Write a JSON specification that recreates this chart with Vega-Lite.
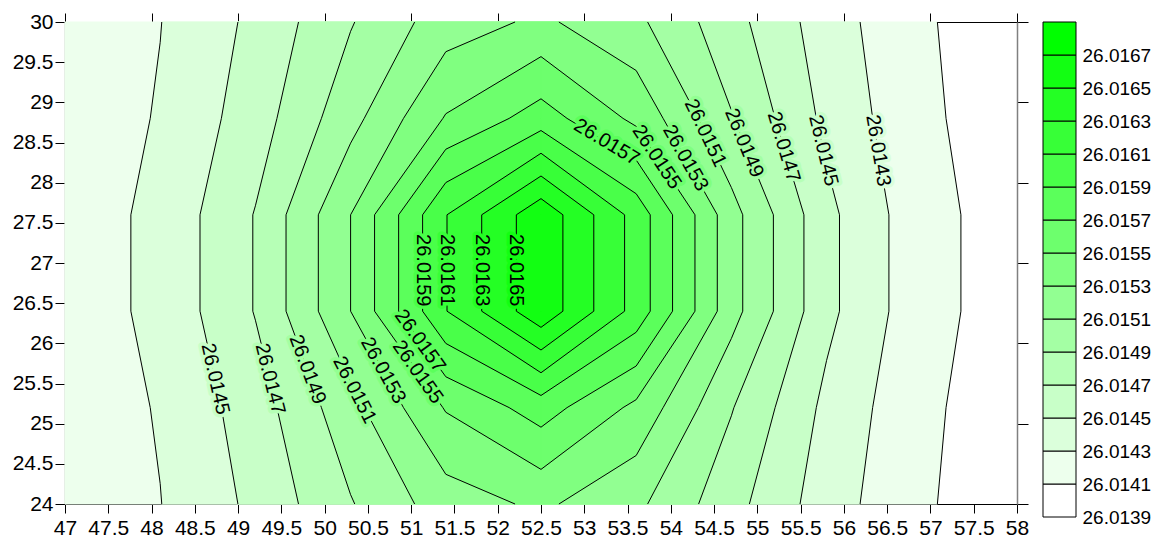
{
 "$schema": "https://vega.github.io/schema/vega-lite/v6.json",
 "background": "white",
 "padding": {"left": 12, "top": 11, "right": 5, "bottom": 5},
 "bounds": "flush",
 "spacing": 26,
 "config": {
  "view": {"stroke": null},
  "axis": {"labelFont": "Liberation Sans", "labelColor": "black", "tickColor": "black", "domainColor": "black", "grid": false, "labelFlush": false},
  "text": {"font": "Liberation Sans"}
 },
 "datasets": {
  "poly": [
   {"p":"01L","lv":26.0141,"y":30,"x":47},{"p":"01L","lv":26.0141,"y":24,"x":47},
   {"p":"01R","lv":26.0141,"y":30,"x":57.080},{"p":"01R","lv":26.0141,"y":28.8,"x":57.180},{"p":"01R","lv":26.0141,"y":27.6,"x":57.352},{"p":"01R","lv":26.0141,"y":26.4,"x":57.352},{"p":"01R","lv":26.0141,"y":25.2,"x":57.180},{"p":"01R","lv":26.0141,"y":24,"x":57.080},
   {"p":"02L","lv":26.0143,"y":30,"x":48.118},{"p":"02L","lv":26.0143,"y":29.747,"x":48.1},{"p":"02L","lv":26.0143,"y":28.8,"x":47.985},{"p":"02L","lv":26.0143,"y":27.6,"x":47.761},{"p":"02L","lv":26.0143,"y":26.4,"x":47.761},{"p":"02L","lv":26.0143,"y":25.2,"x":47.985},{"p":"02L","lv":26.0143,"y":24.253,"x":48.1},{"p":"02L","lv":26.0143,"y":24,"x":48.118},
   {"p":"02R","lv":26.0143,"y":30,"x":56.187},{"p":"02R","lv":26.0143,"y":28.8,"x":56.332},{"p":"02R","lv":26.0143,"y":27.6,"x":56.520},{"p":"02R","lv":26.0143,"y":26.4,"x":56.520},{"p":"02R","lv":26.0143,"y":25.2,"x":56.332},{"p":"02R","lv":26.0143,"y":24,"x":56.187},
   {"p":"03L","lv":26.0145,"y":30,"x":48.998},{"p":"03L","lv":26.0145,"y":28.8,"x":48.807},{"p":"03L","lv":26.0145,"y":27.6,"x":48.560},{"p":"03L","lv":26.0145,"y":26.4,"x":48.560},{"p":"03L","lv":26.0145,"y":25.2,"x":48.807},{"p":"03L","lv":26.0145,"y":24,"x":48.998},
   {"p":"03R","lv":26.0145,"y":30,"x":55.493},{"p":"03R","lv":26.0145,"y":28.8,"x":55.681},{"p":"03R","lv":26.0145,"y":28.212,"x":55.8},{"p":"03R","lv":26.0145,"y":27.6,"x":55.949},{"p":"03R","lv":26.0145,"y":26.4,"x":55.949},{"p":"03R","lv":26.0145,"y":25.788,"x":55.8},{"p":"03R","lv":26.0145,"y":25.2,"x":55.681},{"p":"03R","lv":26.0145,"y":24,"x":55.493},
   {"p":"04L","lv":26.0147,"y":30,"x":49.698},{"p":"04L","lv":26.0147,"y":28.8,"x":49.449},{"p":"04L","lv":26.0147,"y":27.712,"x":49.2},{"p":"04L","lv":26.0147,"y":27.6,"x":49.170},{"p":"04L","lv":26.0147,"y":26.4,"x":49.170},{"p":"04L","lv":26.0147,"y":26.288,"x":49.2},{"p":"04L","lv":26.0147,"y":25.2,"x":49.449},{"p":"04L","lv":26.0147,"y":24,"x":49.698},
   {"p":"04R","lv":26.0147,"y":30,"x":54.908},{"p":"04R","lv":26.0147,"y":28.8,"x":55.205},{"p":"04R","lv":26.0147,"y":27.6,"x":55.538},{"p":"04R","lv":26.0147,"y":26.4,"x":55.538},{"p":"04R","lv":26.0147,"y":25.2,"x":55.205},{"p":"04R","lv":26.0147,"y":24,"x":54.908},
   {"p":"05L","lv":26.0149,"y":30,"x":50.348},{"p":"05L","lv":26.0149,"y":29.884,"x":50.3},{"p":"05L","lv":26.0149,"y":28.8,"x":49.963},{"p":"05L","lv":26.0149,"y":27.6,"x":49.554},{"p":"05L","lv":26.0149,"y":26.4,"x":49.554},{"p":"05L","lv":26.0149,"y":25.2,"x":49.963},{"p":"05L","lv":26.0149,"y":24.116,"x":50.3},{"p":"05L","lv":26.0149,"y":24,"x":50.348},
   {"p":"05R","lv":26.0149,"y":30,"x":54.321},{"p":"05R","lv":26.0149,"y":28.902,"x":54.7},{"p":"05R","lv":26.0149,"y":28.8,"x":54.729},{"p":"05R","lv":26.0149,"y":27.6,"x":55.185},{"p":"05R","lv":26.0149,"y":26.4,"x":55.185},{"p":"05R","lv":26.0149,"y":25.2,"x":54.729},{"p":"05R","lv":26.0149,"y":25.098,"x":54.7},{"p":"05R","lv":26.0149,"y":24,"x":54.321},
   {"p":"06L","lv":26.0151,"y":30,"x":51.040},{"p":"06L","lv":26.0151,"y":28.8,"x":50.457},{"p":"06L","lv":26.0151,"y":28.492,"x":50.3},{"p":"06L","lv":26.0151,"y":27.6,"x":49.927},{"p":"06L","lv":26.0151,"y":26.4,"x":49.927},{"p":"06L","lv":26.0151,"y":25.508,"x":50.3},{"p":"06L","lv":26.0151,"y":25.2,"x":50.457},{"p":"06L","lv":26.0151,"y":24,"x":51.040},
   {"p":"06R","lv":26.0151,"y":30,"x":53.732},{"p":"06R","lv":26.0151,"y":28.8,"x":54.318},{"p":"06R","lv":26.0151,"y":27.939,"x":54.7},{"p":"06R","lv":26.0151,"y":27.6,"x":54.831},{"p":"06R","lv":26.0151,"y":26.4,"x":54.831},{"p":"06R","lv":26.0151,"y":26.061,"x":54.7},{"p":"06R","lv":26.0151,"y":25.2,"x":54.318},{"p":"06R","lv":26.0151,"y":24,"x":53.732},
   {"p":"07L","lv":26.0153,"y":30,"x":52.200},{"p":"07L","lv":26.0153,"y":29.630,"x":51.4},{"p":"07L","lv":26.0153,"y":28.8,"x":50.911},{"p":"07L","lv":26.0153,"y":27.6,"x":50.300},{"p":"07L","lv":26.0153,"y":26.4,"x":50.300},{"p":"07L","lv":26.0153,"y":25.2,"x":50.911},{"p":"07L","lv":26.0153,"y":24.370,"x":51.4},{"p":"07L","lv":26.0153,"y":24,"x":52.200},
   {"p":"07R","lv":26.0153,"y":30,"x":52.707},{"p":"07R","lv":26.0153,"y":29.396,"x":53.6},{"p":"07R","lv":26.0153,"y":28.8,"x":53.911},{"p":"07R","lv":26.0153,"y":27.6,"x":54.537},{"p":"07R","lv":26.0153,"y":26.4,"x":54.537},{"p":"07R","lv":26.0153,"y":25.2,"x":53.911},{"p":"07R","lv":26.0153,"y":24.604,"x":53.6},{"p":"07R","lv":26.0153,"y":24,"x":52.707},
   {"p":"08L","lv":26.0155,"y":29.569,"x":52.5},{"p":"08L","lv":26.0155,"y":28.858,"x":51.4},{"p":"08L","lv":26.0155,"y":28.8,"x":51.366},{"p":"08L","lv":26.0155,"y":27.6,"x":50.577},{"p":"08L","lv":26.0155,"y":26.4,"x":50.577},{"p":"08L","lv":26.0155,"y":25.2,"x":51.366},{"p":"08L","lv":26.0155,"y":25.142,"x":51.4},{"p":"08L","lv":26.0155,"y":24.431,"x":52.5},
   {"p":"08R","lv":26.0155,"y":29.569,"x":52.5},{"p":"08R","lv":26.0155,"y":28.8,"x":53.448},{"p":"08R","lv":26.0155,"y":28.701,"x":53.6},{"p":"08R","lv":26.0155,"y":27.6,"x":54.279},{"p":"08R","lv":26.0155,"y":26.4,"x":54.279},{"p":"08R","lv":26.0155,"y":25.299,"x":53.6},{"p":"08R","lv":26.0155,"y":25.2,"x":53.448},{"p":"08R","lv":26.0155,"y":24.431,"x":52.5},
   {"p":"09L","lv":26.0157,"y":29.044,"x":52.5},{"p":"09L","lv":26.0157,"y":28.8,"x":52.132},{"p":"09L","lv":26.0157,"y":28.416,"x":51.4},{"p":"09L","lv":26.0157,"y":27.6,"x":50.855},{"p":"09L","lv":26.0157,"y":26.4,"x":50.855},{"p":"09L","lv":26.0157,"y":25.584,"x":51.4},{"p":"09L","lv":26.0157,"y":25.2,"x":52.132},{"p":"09L","lv":26.0157,"y":24.956,"x":52.5},
   {"p":"09R","lv":26.0157,"y":29.044,"x":52.5},{"p":"09R","lv":26.0157,"y":28.8,"x":52.801},{"p":"09R","lv":26.0157,"y":28.282,"x":53.6},{"p":"09R","lv":26.0157,"y":27.6,"x":54.020},{"p":"09R","lv":26.0157,"y":26.4,"x":54.020},{"p":"09R","lv":26.0157,"y":25.718,"x":53.6},{"p":"09R","lv":26.0157,"y":25.2,"x":52.801},{"p":"09R","lv":26.0157,"y":24.956,"x":52.5},
   {"p":"10L","lv":26.0159,"y":28.649,"x":52.5},{"p":"10L","lv":26.0159,"y":28.001,"x":51.4},{"p":"10L","lv":26.0159,"y":27.6,"x":51.132},{"p":"10L","lv":26.0159,"y":26.4,"x":51.132},{"p":"10L","lv":26.0159,"y":25.999,"x":51.4},{"p":"10L","lv":26.0159,"y":25.351,"x":52.5},
   {"p":"10R","lv":26.0159,"y":28.649,"x":52.5},{"p":"10R","lv":26.0159,"y":27.862,"x":53.6},{"p":"10R","lv":26.0159,"y":27.6,"x":53.762},{"p":"10R","lv":26.0159,"y":26.4,"x":53.762},{"p":"10R","lv":26.0159,"y":26.138,"x":53.6},{"p":"10R","lv":26.0159,"y":25.351,"x":52.5},
   {"p":"11L","lv":26.0161,"y":28.366,"x":52.5},{"p":"11L","lv":26.0161,"y":27.6,"x":51.414},{"p":"11L","lv":26.0161,"y":26.4,"x":51.414},{"p":"11L","lv":26.0161,"y":25.634,"x":52.5},
   {"p":"11R","lv":26.0161,"y":28.366,"x":52.5},{"p":"11R","lv":26.0161,"y":27.6,"x":53.466},{"p":"11R","lv":26.0161,"y":26.4,"x":53.466},{"p":"11R","lv":26.0161,"y":25.634,"x":52.5},
   {"p":"12L","lv":26.0163,"y":28.083,"x":52.5},{"p":"12L","lv":26.0163,"y":27.6,"x":51.815},{"p":"12L","lv":26.0163,"y":26.4,"x":51.815},{"p":"12L","lv":26.0163,"y":25.917,"x":52.5},
   {"p":"12R","lv":26.0163,"y":28.083,"x":52.5},{"p":"12R","lv":26.0163,"y":27.6,"x":53.110},{"p":"12R","lv":26.0163,"y":26.4,"x":53.110},{"p":"12R","lv":26.0163,"y":25.917,"x":52.5},
   {"p":"13L","lv":26.0165,"y":27.801,"x":52.5},{"p":"13L","lv":26.0165,"y":27.6,"x":52.215},{"p":"13L","lv":26.0165,"y":26.4,"x":52.215},{"p":"13L","lv":26.0165,"y":26.199,"x":52.5},
   {"p":"13R","lv":26.0165,"y":27.801,"x":52.5},{"p":"13R","lv":26.0165,"y":27.6,"x":52.753},{"p":"13R","lv":26.0165,"y":26.4,"x":52.753},{"p":"13R","lv":26.0165,"y":26.199,"x":52.5}
  ],
  "labels": [
   {"t":"26.0145","x":48.734,"y":25.556,"a":77.5,"lv":26.0145},
   {"t":"26.0147","x":49.368,"y":25.556,"a":76.1,"lv":26.0147},
   {"t":"26.0149","x":49.801,"y":25.674,"a":69.8,"lv":26.0149},
   {"t":"26.0151","x":50.345,"y":25.419,"a":63,"lv":26.0151},
   {"t":"26.0153","x":50.676,"y":25.662,"a":61.2,"lv":26.0153},
   {"t":"26.0155","x":51.075,"y":25.643,"a":54.7,"lv":26.0155},
   {"t":"26.0157","x":51.103,"y":26.029,"a":54.2,"lv":26.0157},
   {"t":"26.0159","x":51.132,"y":26.91,"a":90,"lv":26.0159},
   {"t":"26.0161","x":51.414,"y":26.91,"a":90,"lv":26.0161},
   {"t":"26.0163","x":51.815,"y":26.91,"a":90,"lv":26.0163},
   {"t":"26.0165","x":52.215,"y":26.91,"a":90,"lv":26.0165},
   {"t":"26.0157","x":53.259,"y":28.503,"a":31,"lv":26.0157},
   {"t":"26.0155","x":53.836,"y":28.319,"a":56.4,"lv":26.0155},
   {"t":"26.0153","x":54.168,"y":28.307,"a":60.6,"lv":26.0153},
   {"t":"26.0151","x":54.399,"y":28.618,"a":64.4,"lv":26.0151},
   {"t":"26.0149","x":54.845,"y":28.494,"a":67.7,"lv":26.0149},
   {"t":"26.0147","x":55.304,"y":28.444,"a":73.4,"lv":26.0147},
   {"t":"26.0145","x":55.762,"y":28.4,"a":76.5,"lv":26.0145},
   {"t":"26.0143","x":56.395,"y":28.4,"a":80.4,"lv":26.0143}
  ],
  "bar": [
   {"lo":26.0139,"hi":26.0141,"lv":26.0139},{"lo":26.0141,"hi":26.0143,"lv":26.0141},{"lo":26.0143,"hi":26.0145,"lv":26.0143},
   {"lo":26.0145,"hi":26.0147,"lv":26.0145},{"lo":26.0147,"hi":26.0149,"lv":26.0147},{"lo":26.0149,"hi":26.0151,"lv":26.0149},
   {"lo":26.0151,"hi":26.0153,"lv":26.0151},{"lo":26.0153,"hi":26.0155,"lv":26.0153},{"lo":26.0155,"hi":26.0157,"lv":26.0155},
   {"lo":26.0157,"hi":26.0159,"lv":26.0157},{"lo":26.0159,"hi":26.0161,"lv":26.0159},{"lo":26.0161,"hi":26.0163,"lv":26.0161},
   {"lo":26.0163,"hi":26.0165,"lv":26.0163},{"lo":26.0165,"hi":26.0167,"lv":26.0165},{"lo":26.0167,"hi":26.0169,"lv":26.0167}
  ]
 },
 "hconcat": [
  {
   "width": 952,
   "height": 482,
   "layer": [
    {
     "data": {"name": "poly"},
     "mark": {"type": "area", "orient": "horizontal", "strokeWidth": 1},
     "encoding": {
      "y": {"field": "y", "type": "quantitative", "scale": {"domain": [24, 30], "nice": false, "zero": false},
            "axis": {"orient": "left", "values": [24, 24.5, 25, 25.5, 26, 26.5, 27, 27.5, 28, 28.5, 29, 29.5, 30], "format": "~g", "labelFontSize": 21, "tickSize": 10, "labelPadding": 2, "labelOverlap": false, "domainColor": "#808080", "domainWidth": 1.5, "title": null}},
      "x": {"field": "x", "type": "quantitative", "stack": null, "scale": {"domain": [47, 58], "nice": false, "zero": false},
            "axis": {"orient": "bottom", "values": [47, 47.5, 48, 48.5, 49, 49.5, 50, 50.5, 51, 51.5, 52, 52.5, 53, 53.5, 54, 54.5, 55, 55.5, 56, 56.5, 57, 57.5, 58], "format": "~g", "labelFontSize": 21, "tickSize": 9, "labelPadding": 4, "labelOverlap": false, "labelBound": false, "labelFlush": false, "title": null}},
      "x2": {"datum": 52.5},
      "detail": {"field": "p"},
      "color": {"field": "lv", "type": "quantitative", "legend": null,
                "scale": {"type": "threshold", "domain": [26.0141, 26.0143, 26.0145, 26.0147, 26.0149, 26.0151, 26.0153, 26.0155, 26.0157, 26.0159, 26.0161, 26.0163, 26.0165, 26.0167],
                          "range": ["#ffffff", "#edffed", "#dbffdb", "#c8ffc8", "#b6ffb6", "#a4ffa4", "#92ff92", "#80ff80", "#6dff6d", "#5bff5b", "#49ff49", "#37ff37", "#24ff24", "#12ff12", "#00ff00"]}},
      "stroke": {"field": "lv", "type": "quantitative", "legend": null,
                "scale": {"type": "threshold", "domain": [26.0141, 26.0143, 26.0145, 26.0147, 26.0149, 26.0151, 26.0153, 26.0155, 26.0157, 26.0159, 26.0161, 26.0163, 26.0165, 26.0167],
                          "range": ["#ffffff", "#edffed", "#dbffdb", "#c8ffc8", "#b6ffb6", "#a4ffa4", "#92ff92", "#80ff80", "#6dff6d", "#5bff5b", "#49ff49", "#37ff37", "#24ff24", "#12ff12", "#00ff00"]}}
     }
    },
    {
     "data": {"name": "poly"},
     "transform": [{"filter": "datum.p != '01L'"}],
     "mark": {"type": "line", "color": "black", "strokeWidth": 1},
     "encoding": {
      "y": {"field": "y", "type": "quantitative", "axis": {"orient": "right", "values": [24, 25, 26, 27, 28, 29, 30], "labels": false, "tickSize": 11, "domainColor": "#808080", "domainWidth": 1.5, "title": null}},
      "x": {"field": "x", "type": "quantitative", "axis": {"orient": "top", "values": [47, 48, 49, 50, 51, 52, 53, 54, 55, 56, 57, 58], "labels": false, "tickSize": 9, "title": null}},
      "detail": {"field": "p"},
      "order": {"field": "y", "type": "quantitative"}
     }
    },
    {
     "data": {"name": "labels"},
     "mark": {"type": "text", "fontSize": 20, "strokeWidth": 7, "strokeJoin": "round", "align": "center", "baseline": "middle"},
     "encoding": {
      "y": {"field": "y", "type": "quantitative", "axis": null},
      "x": {"field": "x", "type": "quantitative", "axis": null},
      "text": {"field": "t"},
      "angle": {"field": "a", "type": "quantitative", "scale": null},
      "color": {"field": "lv", "type": "quantitative", "legend": null,
                "scale": {"type": "threshold", "domain": [26.0141, 26.0143, 26.0145, 26.0147, 26.0149, 26.0151, 26.0153, 26.0155, 26.0157, 26.0159, 26.0161, 26.0163, 26.0165, 26.0167],
                          "range": ["#ffffff", "#edffed", "#dbffdb", "#c8ffc8", "#b6ffb6", "#a4ffa4", "#92ff92", "#80ff80", "#6dff6d", "#5bff5b", "#49ff49", "#37ff37", "#24ff24", "#12ff12", "#00ff00"]}},
      "stroke": {"field": "lv", "type": "quantitative", "legend": null,
                "scale": {"type": "threshold", "domain": [26.0141, 26.0143, 26.0145, 26.0147, 26.0149, 26.0151, 26.0153, 26.0155, 26.0157, 26.0159, 26.0161, 26.0163, 26.0165, 26.0167],
                          "range": ["#ffffff", "#edffed", "#dbffdb", "#c8ffc8", "#b6ffb6", "#a4ffa4", "#92ff92", "#80ff80", "#6dff6d", "#5bff5b", "#49ff49", "#37ff37", "#24ff24", "#12ff12", "#00ff00"]}}
     }
    },
    {
     "data": {"name": "labels"},
     "mark": {"type": "text", "fontSize": 20, "align": "center", "baseline": "middle", "fill": "black"},
     "encoding": {
      "y": {"field": "y", "type": "quantitative", "axis": null},
      "x": {"field": "x", "type": "quantitative", "axis": null},
      "text": {"field": "t"},
      "angle": {"field": "a", "type": "quantitative", "scale": null}
     }
    }
   ],
   "resolve": {"axis": {"x": "independent", "y": "independent"}}
  },
  {
   "width": 33,
   "height": 495,
   "data": {"name": "bar"},
   "mark": {"type": "rect", "stroke": "black", "strokeWidth": 1},
   "encoding": {
    "y": {"field": "lo", "type": "quantitative", "scale": {"domain": [26.0139, 26.0169], "nice": false, "zero": false},
          "axis": {"orient": "right", "values": [26.0139, 26.0141, 26.0143, 26.0145, 26.0147, 26.0149, 26.0151, 26.0153, 26.0155, 26.0157, 26.0159, 26.0161, 26.0163, 26.0165, 26.0167], "format": ".4f", "labelFontSize": 19, "ticks": false, "domain": false, "labelPadding": 6, "labelOverlap": false, "labelFlush": false, "title": null}},
    "y2": {"field": "hi"},
    "color": {"field": "lv", "type": "quantitative", "legend": null,
              "scale": {"type": "threshold", "domain": [26.0141, 26.0143, 26.0145, 26.0147, 26.0149, 26.0151, 26.0153, 26.0155, 26.0157, 26.0159, 26.0161, 26.0163, 26.0165, 26.0167],
                        "range": ["#ffffff", "#edffed", "#dbffdb", "#c8ffc8", "#b6ffb6", "#a4ffa4", "#92ff92", "#80ff80", "#6dff6d", "#5bff5b", "#49ff49", "#37ff37", "#24ff24", "#12ff12", "#00ff00"]}}
   }
  }
 ]
}
